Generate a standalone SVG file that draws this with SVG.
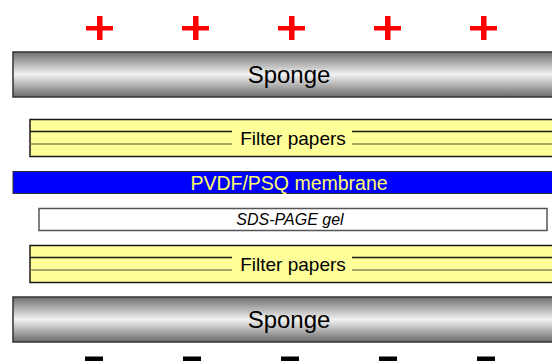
<svg xmlns="http://www.w3.org/2000/svg" width="552" height="361" viewBox="0 0 552 361">
<defs>
<linearGradient id="sp" x1="0" y1="0" x2="0" y2="1">
<stop offset="0" stop-color="#6e6e6e"/>
<stop offset="0.5" stop-color="#f2f2f2"/>
<stop offset="1" stop-color="#6a6a6a"/>
</linearGradient>
<style>
.t{font-family:"Liberation Sans",Arial,sans-serif;text-anchor:middle}
.sponge{fill:url(#sp);stroke:#333;stroke-width:1.5}
.filter{fill:#ffff99;stroke:#1a1a1a;stroke-width:1.5}
.l1{stroke:#1a1a1a;stroke-width:1.3}
.l2{stroke:#8a8a5a;stroke-width:1.5}
.plus{fill:#ff0000}
.minus{fill:#000}
</style>
</defs>
<rect width="552" height="361" fill="#fff"/>
<g id="plus-signs" class="plus">
<rect x="86" y="26" width="27" height="4.5"/><rect x="97" y="16" width="5.5" height="24"/>
<rect x="182" y="26" width="27" height="4.5"/><rect x="193" y="16" width="5.5" height="24"/>
<rect x="278" y="26" width="27" height="4.5"/><rect x="289" y="16" width="5.5" height="24"/>
<rect x="374" y="26" width="27" height="4.5"/><rect x="385" y="16" width="5.5" height="24"/>
<rect x="470" y="26" width="27" height="4.5"/><rect x="481" y="16" width="5.5" height="24"/>
</g>
<g id="sponge-top">
<rect class="sponge" x="13" y="52" width="545" height="45"/>
<text class="t" x="289" y="83" font-size="24">Sponge</text>
</g>
<g id="filter-top">
<rect class="filter" x="30" y="119.5" width="528" height="37"/>
<line class="l1" x1="30" y1="131.5" x2="232" y2="131.5"/><line class="l1" x1="352" y1="131.5" x2="558" y2="131.5"/>
<line class="l2" x1="30" y1="144" x2="232" y2="144"/><line class="l2" x1="352" y1="144" x2="558" y2="144"/>
<text class="t" x="293" y="144.5" font-size="19">Filter papers</text>
</g>
<g id="membrane">
<rect x="13" y="171.5" width="545" height="22" fill="#0000ff" stroke="#333" stroke-width="1"/>
<text class="t" x="289" y="189.5" font-size="19.5" fill="#ffff66">PVDF/PSQ membrane</text>
</g>
<g id="gel">
<rect x="39" y="208.5" width="508" height="22" fill="#fff" stroke="#555" stroke-width="1.5"/>
<text class="t" x="290" y="225" font-size="16" font-style="italic">SDS-PAGE gel</text>
</g>
<g id="filter-bottom">
<rect class="filter" x="30" y="245.5" width="528" height="37"/>
<line class="l1" x1="30" y1="257.5" x2="232" y2="257.5"/><line class="l1" x1="352" y1="257.5" x2="558" y2="257.5"/>
<line class="l2" x1="30" y1="270" x2="232" y2="270"/><line class="l2" x1="352" y1="270" x2="558" y2="270"/>
<text class="t" x="293" y="270.5" font-size="19">Filter papers</text>
</g>
<g id="sponge-bottom">
<rect class="sponge" x="13" y="297" width="545" height="45"/>
<text class="t" x="289" y="328" font-size="24">Sponge</text>
</g>
<g id="minus-signs" class="minus">
<rect x="85" y="356.5" width="18" height="6"/>
<rect x="183" y="356.5" width="18" height="6"/>
<rect x="281" y="356.5" width="18" height="6"/>
<rect x="379" y="356.5" width="18" height="6"/>
<rect x="477" y="356.5" width="18" height="6"/>
</g>
</svg>
